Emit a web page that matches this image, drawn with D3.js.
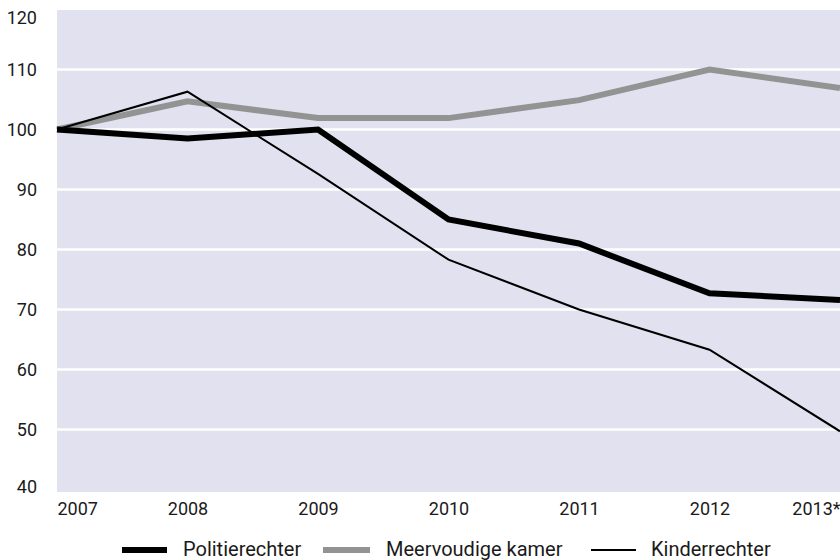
<!DOCTYPE html>
<html>
<head>
<meta charset="utf-8">
<script src="https://cdn.jsdelivr.net/npm/d3@7"></script>
<style>
  html, body { margin: 0; padding: 0; background: #fff; }
  svg text { font-family: Roboto, "Noto Sans", sans-serif; fill: #1a1a1a; }
</style>
</head>
<body>
<svg id="chart" width="840" height="560"></svg>
<script>
const years = ["2007", "2008", "2009", "2010", "2011", "2012", "2013*"];
const politierechter = [100, 98.5, 100, 85, 81.0, 72.7, 71.6];
const meervoudigeKamer = [100, 104.7, 101.9, 101.9, 104.9, 110, 106.9];
const kinderrechter = [100, 106.3, 92.6, 78.3, 70, 63.3, 49.7];
const yTicks = [40, 50, 60, 70, 80, 90, 100, 110, 120];
const seriesNames = ["Politierechter", "Meervoudige kamer", "Kinderrechter"];

const svg = d3.select("#chart");
const plotLeft = 57, plotRight = 840, plotTop = 9.5, plotBottom = 489.5;

const x = d3.scalePoint().domain(years).range([plotLeft, plotRight]);
const y = d3.scaleLinear().domain([40, 120]).range([plotBottom, plotTop]);

// plot background
svg.append("rect")
  .attr("x", plotLeft).attr("y", 10)
  .attr("width", plotRight - plotLeft).attr("height", 482)
  .attr("fill", "#e1e1ef");

// gridlines
svg.append("g").selectAll("line")
  .data(yTicks.filter(d => d > 40 && d < 120))
  .join("line")
  .attr("x1", plotLeft).attr("x2", plotRight)
  .attr("y1", d => y(d)).attr("y2", d => y(d))
  .attr("stroke", "#ffffff").attr("stroke-width", 2.5);

// y axis labels
const yAxis = d3.axisLeft(y).tickValues(yTicks).tickSize(0).tickPadding(0);
const gy = svg.append("g").attr("transform", "translate(37,0)").call(yAxis);
gy.select(".domain").remove();
gy.selectAll("text")
  .style("font-family", "Roboto, 'Noto Sans', sans-serif")
  .attr("font-size", 18).attr("fill", "#1a1a1a")
  .attr("dy", d => d === 120 ? "0.8em" : (d === 40 ? "0.15em" : "0.35em"));

// x axis labels
const xAxis = d3.axisBottom(x).tickSize(0).tickPadding(0);
const gx = svg.append("g").attr("transform", "translate(0,502)").call(xAxis);
gx.select(".domain").remove();
gx.selectAll("text")
  .style("font-family", "Roboto, 'Noto Sans', sans-serif")
  .attr("font-size", 18).attr("fill", "#1a1a1a")
  .attr("dy", "0.71em")
  .attr("text-anchor", (d, i) => i === 0 ? "start" : (i === years.length - 1 ? "end" : "middle"));

// lines
const line = d3.line().x((d, i) => x(years[i])).y(d => y(d));
const series = [
  { name: seriesNames[0], values: politierechter, color: "#000000", width: 6 },
  { name: seriesNames[1], values: meervoudigeKamer, color: "#939393", width: 6 },
  { name: seriesNames[2], values: kinderrechter, color: "#000000", width: 2 }
];
const order = [1, 0, 2];
order.forEach(k => {
  const s = series[k];
  svg.append("path")
    .datum(s.values)
    .attr("d", line)
    .attr("fill", "none")
    .attr("stroke", s.color)
    .attr("stroke-width", s.width)
    .attr("stroke-linejoin", "miter");
});

// legend
const legendPos = [
  { sx: 122, sw: 45, tx: 183 },
  { sx: 323, sw: 47, tx: 386 },
  { sx: 591, sw: 45, tx: 651 }
];
series.forEach((s, i) => {
  const p = legendPos[i];
  svg.append("line")
    .attr("x1", p.sx).attr("x2", p.sx + p.sw)
    .attr("y1", 550).attr("y2", 550)
    .attr("stroke", s.color).attr("stroke-width", s.width);
  svg.append("text")
    .attr("x", p.tx).attr("y", 556)
    .attr("font-size", 20)
    .text(s.name);
});
</script>
</body>
</html>
